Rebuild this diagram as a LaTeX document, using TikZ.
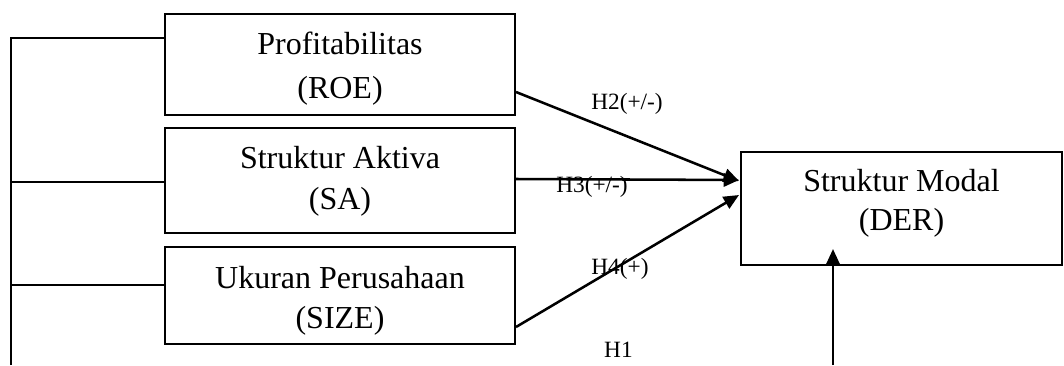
\documentclass[tikz,border=0pt]{standalone}
\usepackage{fontspec}
\setmainfont{Liberation Serif}
\usetikzlibrary{arrows.meta,calc}
\newdimen\px
\px=0.75pt
\tikzset{
  varbox/.style={draw=black, line width=1.5pt, minimum width=350\px, inner sep=0pt},
  vartext/.style={align=center, inner sep=0pt, font=\fontsize{24}{31}\selectfont},
  lbl/.style={inner sep=0pt, font=\fontsize{17.5}{20}\selectfont},
  conn/.style={line width=1.5pt},
  arrow/.style={line width=1.9pt, -{Triangle[length=11.5pt,width=10pt]}}
}
\begin{document}
\begin{tikzpicture}[x=0.75pt, y=-0.75pt]
\useasboundingbox (0,0) rectangle (1064,365);

% independent variables
\node[varbox, minimum height=101\px] (roe) at (340,64.5) {};
\node[varbox, minimum height=105\px] (sa) at (340,180.5) {};
\node[varbox, minimum height=97\px] (size) at (340,295.5) {};
\node[vartext, font=\fontsize{24}{33}\selectfont] (roetext) at ([yshift=-4\px]roe.center) {Profitabilitas\\(ROE)};
\node[vartext] (satext) at ([yshift=-0.5\px]sa.center) {Struktur Aktiva\\(SA)};
\node[vartext, font=\fontsize{24}{30}\selectfont] (sizetext) at ([yshift=-5\px]size.center) {Ukuran Perusahaan\\(SIZE)};

% dependent variable
\node[varbox, minimum width=321\px, minimum height=113\px] (der) at (901.5,208.5) {};
\node[vartext, font=\fontsize{24}{29}\selectfont] (dertext) at ([yshift=5\px]der.center) {Struktur Modal\\(DER)};

% bracket on the left joining the three variables
\coordinate (ltop) at (11,38);
\coordinate (lbot) at (11,365);
\coordinate (lsa) at (11,182);
\coordinate (lsize) at (11,285);
\draw[conn] (lbot) -- (ltop) -- (ltop -| roe.west);
\draw[conn] (lsa) -- (lsa -| sa.west);
\draw[conn] (lsize) -- (lsize -| size.west);

% hypotheses
\draw[arrow] ([yshift=-27.5\px]roe.east) -- ([xshift=-1\px,yshift=27.5\px]der.west);
\draw[arrow] ([yshift=1.5\px]sa.east) -- ([xshift=-1\px,yshift=28.5\px]der.west);
\draw[arrow] ([yshift=-31.5\px]size.east) -- ([xshift=-1\px,yshift=13.5\px]der.west);
\coordinate (h1s) at (833,365);
\draw[arrow] (h1s) -- ([xshift=-68.5\px,yshift=17\px]der.south);

% hypothesis labels
\node[lbl] (h2) at (627,104) {H2(+/-)};
\node[lbl] (h3) at (592,187) {H3(+/-)};
\node[lbl] (h4) at (620,269) {H4(+)};
\node[lbl] (h1) at (618.5,350) {H1};
\end{tikzpicture}
\end{document}
